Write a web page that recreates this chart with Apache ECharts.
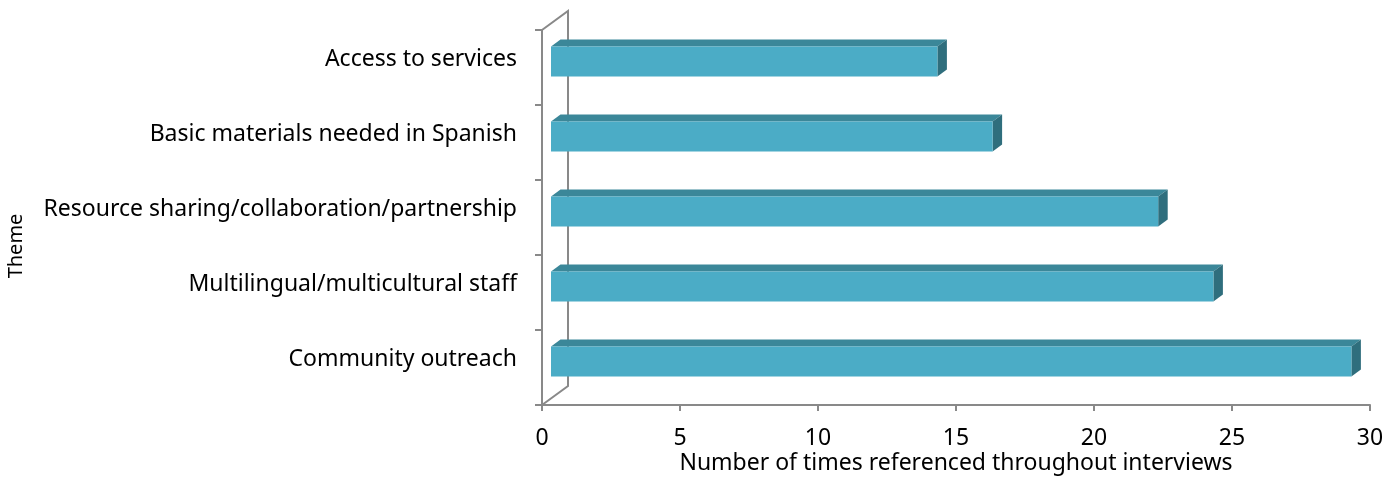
<!DOCTYPE html>
<html>
<head>
<meta charset="utf-8">
<script src="https://cdn.jsdelivr.net/npm/echarts@6/dist/echarts.min.js"></script>
<style>
  html, body { margin: 0; padding: 0; background: #fff; }
  #chart { width: 1395px; height: 477px; }
</style>
</head>
<body>
<div id="chart"></div>
<script>
// Themes raised in interviews, top to bottom
const categories = [
  'Access to services',
  'Basic materials needed in Spanish',
  'Resource sharing/collaboration/partnership',
  'Multilingual/multicultural staff',
  'Community outreach'
];
// Number of times each theme was referenced
const references = [14, 16, 22, 24, 29];
// Value axis ticks
const xMin = 0;
const xMax = 30;
const xStep = 5;

const FONT = '"Noto Sans", sans-serif';
const AXIS_GRAY = '#898989';
const FRONT = '#4bacc6';
const TOP = '#3b8799';
const SIDE = '#2f6e7d';

// oblique 3D offsets: floor/back wall depth, bar front offset and bar depth
const WALL_DX = 26, WALL_DY = -19;
const FRONT_DX = 9, FRONT_DY = -6;
const BAR_DX = 9.5, BAR_DY = -7;

function renderWall(params, api) {
  const cs = params.coordSys;
  const left = cs.x, top = cs.y, bottom = cs.y + cs.height;
  return {
    type: 'polyline',
    shape: { points: [
      [left, top], [left + WALL_DX, top + WALL_DY],
      [left + WALL_DX, bottom + WALL_DY], [left, bottom]
    ] },
    style: { stroke: AXIS_GRAY, lineWidth: 2, fill: null }
  };
}

function renderBar(params, api) {
  const cat = api.value(1);
  const val = api.value(0);
  const base = api.coord([0, cat]);
  const tip = api.coord([val, cat]);
  const band = api.size([0, 1])[1];
  const h = band * 0.4;
  const x0 = base[0] + FRONT_DX;
  const x1 = tip[0] + FRONT_DX;
  const yt = base[1] + FRONT_DY - h / 2;
  const yb = yt + h;
  return {
    type: 'group',
    children: [
      { type: 'polygon',
        shape: { points: [[x0, yt], [x1, yt], [x1 + BAR_DX, yt + BAR_DY], [x0 + BAR_DX, yt + BAR_DY]] },
        style: { fill: TOP } },
      { type: 'polygon',
        shape: { points: [[x1, yt], [x1 + BAR_DX, yt + BAR_DY], [x1 + BAR_DX, yb + BAR_DY], [x1, yb]] },
        style: { fill: SIDE } },
      { type: 'rect',
        shape: { x: x0, y: yt, width: x1 - x0, height: h },
        style: { fill: FRONT } }
    ]
  };
}

const chart = echarts.init(document.getElementById('chart'));
chart.setOption({
  animation: false,
  backgroundColor: '#ffffff',
  grid: {
    left: 542, right: 25, top: 30, bottom: 72,
    containLabel: false, outerBoundsMode: 'none'
  },
  xAxis: {
    type: 'value',
    min: xMin, max: xMax, interval: xStep,
    name: 'Number of times referenced throughout interviews',
    nameLocation: 'middle',
    nameGap: 47,
    nameMoveOverlap: false,
    nameTextStyle: { fontFamily: FONT, fontSize: 23, color: '#000' },
    axisLine: { show: true, lineStyle: { color: AXIS_GRAY, width: 2 } },
    axisTick: { show: true, length: 6, lineStyle: { color: AXIS_GRAY, width: 2 } },
    axisLabel: { margin: 22, fontFamily: FONT, fontSize: 23, color: '#000' },
    splitLine: { show: false }
  },
  yAxis: {
    type: 'category',
    inverse: true,
    data: categories,
    axisLine: { show: true, lineStyle: { color: AXIS_GRAY, width: 2 } },
    axisTick: { show: true, length: 7, lineStyle: { color: AXIS_GRAY, width: 2 } },
    axisLabel: {
      margin: 25, fontFamily: FONT, fontSize: 23, color: '#000',
      verticalAlign: 'bottom', lineHeight: 16
    }
  },
  graphic: [{
    type: 'text',
    x: 16, y: 246,
    rotation: Math.PI / 2,
    style: {
      text: 'Theme', fontFamily: FONT, fontSize: 20, fill: '#000',
      textAlign: 'center', textVerticalAlign: 'middle'
    }
  }],
  series: [
    {
      type: 'custom',
      renderItem: renderWall,
      data: [[0, 0]],
      encode: { x: 0, y: 1 },
      silent: true
    },
    {
      type: 'custom',
      renderItem: renderBar,
      data: references.map((v, i) => [v, i]),
      encode: { x: 0, y: 1 }
    }
  ]
});
</script>
</body>
</html>
